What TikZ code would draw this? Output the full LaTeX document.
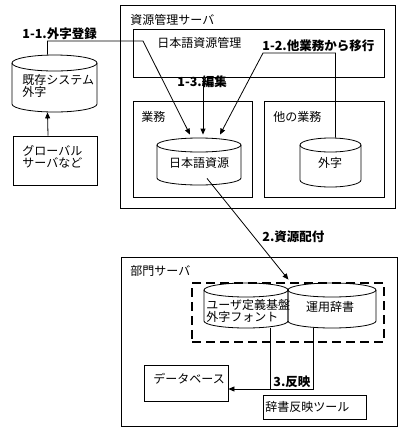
\documentclass[tikz,border=0pt]{standalone}
\usepackage{fontspec}
\setmainfont{Noto Sans CJK JP}
\usetikzlibrary{arrows.meta,fit}
\newcommand{\drum}[6][7]{%
  \draw (#3,#4+#1) -- (#3,#6-#1) arc[start angle=180,end angle=0,x radius={(#5-#3)/2},y radius=#1] -- (#5,#4+#1);
  \draw ({(#3+#5)/2},#4+#1) ellipse[x radius={(#5-#3)/2},y radius=#1];
  \node[inner sep=0,minimum width={#5-#3},minimum height={#6-#4}] (#2) at ({(#3+#5)/2},{(#4+#6)/2}) {};
}

\begin{document}
\begin{tikzpicture}[x=1pt,y=-1pt,line width=0.8pt,
box/.style={draw,inner sep=0},
dashbox/.style={draw,inner sep=0,line width=2pt,dash pattern=on 9pt off 5pt},
txt/.style={font=\fontsize{12}{12.5}\selectfont,inner sep=0,anchor=west,align=left},
tag/.style={txt,font=\fontsize{12.5}{14}\selectfont\bfseries},
arr/.style={-{Triangle[length=6pt,width=5pt]}}]
\useasboundingbox (0,0) rectangle (401,432);
\node[box,fit={(120,5) (395,208)}] (srv) {};
\node[txt] (srvt) at (130,20) {資源管理サーバ};
\node[box,fit={(133,29) (384,77)}] (mgr) {};
\node[txt] (mgrt) at (157,43) {日本語資源管理};
\node[box,fit={(133,101) (252,197)}] (biz) {};
\node[txt] (bizt) at (141,117) {業務};
\node[box,fit={(264,101) (384,197)}] (oth) {};
\node[txt] (otht) at (273,117) {他の業務};
\drum{jres}{157}{138}{241}{185}
\node[txt,anchor=center] (jrest) at (199,163) {日本語資源};
\drum{gaiji}{300}{138}{361}{187}
\node[txt,anchor=center] (gaijit) at (330,163) {外字};
\drum[8]{old}{12}{55}{97}{112}
\node[txt] (oldt) at (22,86) {既存システム\\外字};
\node[box,fit={(13,136) (97,185)}] (glob) {};
\node[txt] (globt) at (22,157) {グローバル\\サーバなど};
\node[box,fit={(121,257) (397,426)}] (dept) {};
\node[txt] (deptt) at (130,271) {部門サーバ};
\drum{font}{204}{283}{288}{328}
\node[txt] (fontt) at (206,311) {ユーザ定義基盤\\外字フォント};
\drum{dict}{288}{283}{376}{328}
\node[txt,anchor=center] (dictt) at (330,307) {運用辞書};
\node[dashbox,fit={(192,283) (384,342)}] (grp) {};
\node[box,fit={(144,365) (228,401)}] (db) {};
\node[txt] (dbt) at (153,379) {データベース};
\node[box,fit={(263,395) (366,419)}] (tool) {};
\node[txt] (toolt) at (265,407) {辞書反映ツール};
\draw[arr] ([xshift=-7pt]glob.north) -- ([xshift=-7pt]old.south);
\draw[arr] ([xshift=-7pt]old.north) |- (143,41) -- ([xshift=-9pt,yshift=3pt]jres.north);
\draw[arr] ([xshift=4pt]jres.north |- mgr.south) -- ([xshift=4pt,yshift=3pt]jres.north);
\draw[arr] ([xshift=5pt]gaiji.north) |- (263,53) -- ([xshift=21pt,yshift=3pt]jres.north);
\draw[arr] ([xshift=8pt,yshift=7pt]jres.south) -- ([yshift=3pt]font.north east);
\draw[arr] ([xshift=-19pt]dict.south) |- ([yshift=-6pt]db.east);
\draw ([xshift=24pt]font.south) -- ++(0,61);
\node[tag] (l11) at (22,34) {1-1.外字登録};
\node[tag] (l12) at (262,46) {1-2.他業務から移行};
\node[tag] (l13) at (177,82) {1-3.編集};
\node[tag] (l2) at (262,237) {2.資源配付};
\node[tag] (l3) at (273,382) {3.反映};
\end{tikzpicture}
\end{document}
